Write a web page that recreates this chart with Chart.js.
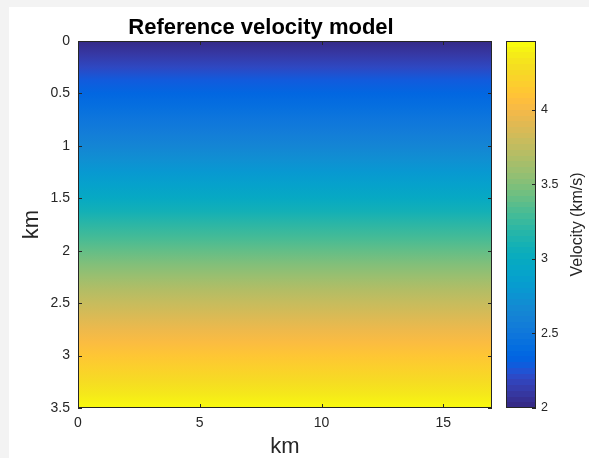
<!DOCTYPE html>
<html>
<head>
<meta charset="utf-8">
<script src="https://cdn.jsdelivr.net/npm/chart.js@4.4.1/dist/chart.umd.min.js"></script>
<style>
  html, body { margin: 0; padding: 0; background: #f3f3f3; }
  #fig { position: absolute; left: 9px; top: 7px; width: 580px; height: 451px; background: #fff; }
  #main { position: absolute; left: 0; top: 0; }
  #cbar { position: absolute; left: 490px; top: 0; }
</style>
</head>
<body>
<div id="fig"></div>
<canvas id="main" width="520" height="458"></canvas>
<canvas id="cbar" width="99" height="458"></canvas>
<script>
// depth samples (km) and the velocity read at each depth (km/s)
const depthKm = [0, 0.125, 0.25, 0.375, 0.5, 0.625, 0.75, 0.875, 1, 1.125, 1.25, 1.375, 1.5, 1.625, 1.75,
                 1.875, 2, 2.125, 2.25, 2.375, 2.5, 2.625, 2.75, 2.875, 3, 3.125, 3.25, 3.375, 3.5];
const velocity = [2.00, 2.09, 2.18, 2.27, 2.34, 2.41, 2.48, 2.55, 2.63, 2.71, 2.79, 2.88, 2.97, 3.08, 3.20,
                  3.30, 3.40, 3.50, 3.60, 3.70, 3.79, 3.88, 3.97, 4.05, 4.13, 4.21, 4.29, 4.37, 4.46];
const offsetKm = [0, 17];
const velocityRange = [2, 4.46];
const xTicks = [0, 5, 10, 15];
const yTicks = [0, 0.5, 1, 1.5, 2, 2.5, 3, 3.5];
const cbarTicks = [2, 2.5, 3, 3.5, 4];

// matlab parula, 64 entries
const parulaMap = [
  [0.2081,0.1663,0.5292],[0.2116,0.1898,0.5777],[0.2123,0.2138,0.6270],[0.2081,0.2386,0.6771],
  [0.1959,0.2645,0.7279],[0.1707,0.2919,0.7792],[0.1253,0.3242,0.8303],[0.0591,0.3598,0.8683],
  [0.0117,0.3875,0.8820],[0.0060,0.4086,0.8828],[0.0165,0.4266,0.8786],[0.0329,0.4430,0.8720],
  [0.0498,0.4586,0.8641],[0.0629,0.4737,0.8554],[0.0723,0.4887,0.8467],[0.0779,0.5040,0.8384],
  [0.0793,0.5200,0.8312],[0.0749,0.5375,0.8263],[0.0641,0.5570,0.8240],[0.0488,0.5772,0.8228],
  [0.0343,0.5966,0.8199],[0.0265,0.6137,0.8135],[0.0239,0.6287,0.8038],[0.0231,0.6418,0.7913],
  [0.0228,0.6535,0.7768],[0.0267,0.6642,0.7607],[0.0384,0.6743,0.7436],[0.0590,0.6838,0.7254],
  [0.0843,0.6928,0.7062],[0.1133,0.7015,0.6859],[0.1453,0.7098,0.6646],[0.1801,0.7177,0.6424],
  [0.2178,0.7250,0.6193],[0.2586,0.7317,0.5954],[0.3022,0.7376,0.5712],[0.3482,0.7424,0.5473],
  [0.3953,0.7459,0.5244],[0.4420,0.7481,0.5033],[0.4871,0.7491,0.4840],[0.5300,0.7491,0.4661],
  [0.5709,0.7485,0.4494],[0.6099,0.7473,0.4337],[0.6473,0.7456,0.4188],[0.6834,0.7435,0.4044],
  [0.7184,0.7411,0.3905],[0.7525,0.7384,0.3768],[0.7858,0.7356,0.3633],[0.8185,0.7327,0.3498],
  [0.8507,0.7299,0.3360],[0.8824,0.7274,0.3217],[0.9139,0.7258,0.3063],[0.9450,0.7261,0.2886],
  [0.9739,0.7314,0.2666],[0.9938,0.7455,0.2403],[0.9990,0.7653,0.2164],[0.9955,0.7861,0.1967],
  [0.9880,0.8066,0.1794],[0.9789,0.8271,0.1633],[0.9697,0.8481,0.1475],[0.9626,0.8705,0.1309],
  [0.9589,0.8949,0.1132],[0.9598,0.9218,0.0948],[0.9661,0.9514,0.0755],[0.9763,0.9831,0.0538]
];

const FONT = '"Liberation Sans", Arial, Helvetica, sans-serif';
const INK = '#262626';
Chart.defaults.font.family = FONT;

function rgb(c) {
  return `rgb(${Math.round(c[0] * 255)},${Math.round(c[1] * 255)},${Math.round(c[2] * 255)})`;
}

function parula(t) {
  const p = Math.min(Math.max(t, 0), 1) * (parulaMap.length - 1);
  const i = Math.min(Math.floor(p), parulaMap.length - 2);
  const f = p - i;
  const a = parulaMap[i], b = parulaMap[i + 1];
  return rgb([a[0] + (b[0] - a[0]) * f, a[1] + (b[1] - a[1]) * f, a[2] + (b[2] - a[2]) * f]);
}

// vertical gradient through the depth axis, one stop per velocity sample
function modelFill(context) {
  const chart = context.chart;
  if (!chart.chartArea) return null;
  const s = chart.scales.depth;
  const top = s.getPixelForValue(depthKm[0]);
  const bottom = s.getPixelForValue(depthKm[depthKm.length - 1]);
  const g = chart.ctx.createLinearGradient(0, top, 0, bottom);
  const span = velocityRange[1] - velocityRange[0];
  depthKm.forEach((d, i) => {
    const pos = (s.getPixelForValue(d) - top) / (bottom - top);
    g.addColorStop(pos, parula((velocity[i] - velocityRange[0]) / span));
  });
  return g;
}

// colorbar: 64 flat bands from min to max velocity
function cbarFill(context) {
  const chart = context.chart;
  if (!chart.chartArea) return null;
  const s = chart.scales.y;
  const g = chart.ctx.createLinearGradient(0, s.getPixelForValue(velocityRange[0]), 0, s.getPixelForValue(velocityRange[1]));
  const n = parulaMap.length;
  parulaMap.forEach((c, i) => {
    g.addColorStop(i / n, rgb(c));
    g.addColorStop((i + 1) / n, rgb(c));
  });
  return g;
}

// box around the plot area with inward tick marks
const axesBox = {
  id: 'axesBox',
  afterDraw(chart, args, opts) {
    const { ctx, chartArea: a } = chart;
    const len = 4;
    ctx.save();
    ctx.strokeStyle = INK;
    ctx.lineWidth = 1;
    ctx.strokeRect(Math.round(a.left) + 0.5, Math.round(a.top) + 0.5, Math.round(a.width) - 1, Math.round(a.height) - 1);
    ctx.beginPath();
    if (opts.h) {
      const s = chart.scales[opts.h];
      s.ticks.forEach(t => {
        const px = Math.round(s.getPixelForValue(t.value)) + 0.5;
        ctx.moveTo(px, a.bottom); ctx.lineTo(px, a.bottom - len);
        ctx.moveTo(px, a.top); ctx.lineTo(px, a.top + len);
      });
    }
    if (opts.v) {
      const s = chart.scales[opts.v];
      s.ticks.forEach(t => {
        const py = Math.round(s.getPixelForValue(t.value)) + 0.5;
        if (opts.vLeft) { ctx.moveTo(a.left, py); ctx.lineTo(a.left + len, py); }
        ctx.moveTo(a.right, py); ctx.lineTo(a.right - len, py);
      });
    }
    ctx.stroke();
    ctx.restore();
  }
};

// rotated label beside the colorbar
const sideLabel = {
  id: 'sideLabel',
  afterDraw(chart, args, opts) {
    if (!opts.text) return;
    const { ctx, chartArea: a } = chart;
    ctx.save();
    ctx.translate(opts.x, (a.top + a.bottom) / 2);
    ctx.rotate(-Math.PI / 2);
    ctx.font = `${opts.size}px ${FONT}`;
    ctx.fillStyle = INK;
    ctx.textAlign = 'center';
    ctx.textBaseline = 'middle';
    ctx.fillText(opts.text, 0, 0);
    ctx.restore();
  }
};

const useTicks = list => scale => { scale.ticks = list.map(v => ({ value: v })); };
const plain = v => String(v);

new Chart(document.getElementById('main'), {
  type: 'bar',
  data: {
    labels: ['model'],
    datasets: [{
      data: [offsetKm],
      backgroundColor: modelFill,
      borderWidth: 0,
      barPercentage: 1,
      categoryPercentage: 1
    }]
  },
  options: {
    indexAxis: 'y',
    responsive: false,
    animation: false,
    layout: { padding: { left: 30, right: 28, top: 0, bottom: 0 } },
    plugins: {
      legend: { display: false },
      tooltip: { enabled: false },
      title: {
        display: true,
        text: 'Reference velocity model',
        color: '#000',
        font: { size: 22, weight: 'bold', lineHeight: 1.2 },
        padding: { top: 14.5, bottom: 0.1 }
      },
      axesBox: { h: 'x', v: 'depth', vLeft: true },
      sideLabel: { text: '' }
    },
    scales: {
      x: {
        type: 'linear',
        min: offsetKm[0],
        max: offsetKm[1],
        afterBuildTicks: useTicks(xTicks),
        afterFit: s => { s.height = 50; },
        grid: { display: false, drawTicks: false },
        border: { display: false },
        ticks: { color: INK, padding: 7, font: { size: 14 }, callback: plain },
        title: { display: true, text: 'km', color: INK, font: { size: 22, lineHeight: 1 }, padding: { top: 0, bottom: 0 } }
      },
      y: { type: 'category', display: false },
      depth: {
        type: 'linear',
        axis: 'y',
        position: 'left',
        reverse: true,
        offset: false,
        min: 0,
        max: 3.5,
        afterBuildTicks: useTicks(yTicks),
        afterFit: s => { s.width = 48; },
        grid: { display: false, drawTicks: false, offset: false },
        border: { display: false },
        ticks: { color: INK, padding: 8, font: { size: 14 }, callback: plain },
        title: { display: true, text: 'km', color: INK, font: { size: 22, lineHeight: 1 }, padding: { top: -9, bottom: 0 } }
      }
    }
  },
  plugins: [axesBox, sideLabel]
});

new Chart(document.getElementById('cbar'), {
  type: 'bar',
  data: {
    labels: ['v'],
    datasets: [{
      data: [velocityRange],
      backgroundColor: cbarFill,
      borderWidth: 0,
      barPercentage: 1,
      categoryPercentage: 1
    }]
  },
  options: {
    responsive: false,
    animation: false,
    layout: { padding: { left: 16, right: 0, top: 41, bottom: 50 } },
    plugins: {
      legend: { display: false },
      tooltip: { enabled: false },
      axesBox: { v: 'y', vLeft: false },
      sideLabel: { text: 'Velocity (km/s)', x: 88, size: 16 }
    },
    scales: {
      x: { display: false },
      y: {
        type: 'linear',
        position: 'right',
        min: velocityRange[0],
        max: velocityRange[1],
        afterBuildTicks: useTicks(cbarTicks),
        afterFit: s => { s.width = 53; },
        grid: { display: false, drawTicks: false },
        border: { display: false },
        ticks: { color: INK, padding: 5, font: { size: 12.5 }, callback: plain }
      }
    }
  },
  plugins: [axesBox, sideLabel]
});
</script>
</body>
</html>
